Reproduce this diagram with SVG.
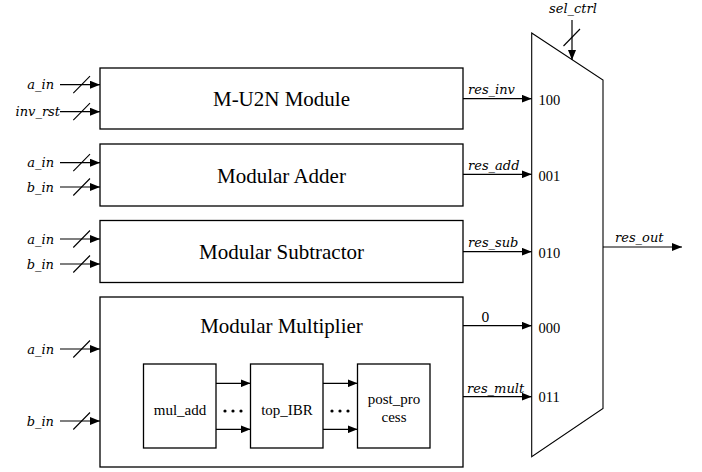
<svg xmlns="http://www.w3.org/2000/svg" width="702" height="472" viewBox="0 0 702 472">
  <defs>
    <marker id="arrow" markerWidth="10" markerHeight="8" refX="10" refY="4" orient="auto" markerUnits="userSpaceOnUse">
      <path d="M0,0 L10,4 L0,8 Z" fill="#000"/>
    </marker>
  </defs>
  <style>
    .box { fill: #fff; stroke: #000; stroke-width: 1.3; }
    .mux { fill: #fff; stroke: #000; stroke-width: 1.1; }
    .wire { fill: none; stroke: #000; stroke-width: 1.2; marker-end: url(#arrow); }
    .slash { fill: none; stroke: #000; stroke-width: 1.1; }
    .title { font-family: 'Liberation Serif', serif; font-size: 21px; text-anchor: middle; fill: #000; }
    .sub { font-family: 'Liberation Serif', serif; font-size: 15px; text-anchor: middle; fill: #000; }
    .code { font-family: 'Liberation Serif', serif; font-size: 14.5px; fill: #000; }
    .sig { font-family: 'DejaVu Serif', serif; font-style: italic; font-size: 13px; fill: #000; }
    .sigr { font-family: 'DejaVu Serif', serif; font-style: italic; font-size: 13px; fill: #000; text-anchor: end; }
    .num { font-family: 'DejaVu Serif', serif; font-size: 13px; fill: #000; text-anchor: middle; }
  </style>

  <!-- functional units -->
  <g id="mu2n">
    <rect class="box" x="100" y="68" width="363" height="61"/>
    <text class="title" x="281.5" y="106">M-U2N Module</text>
  </g>
  <g id="adder">
    <rect class="box" x="100" y="144" width="363" height="62"/>
    <text class="title" x="281.5" y="182.5">Modular Adder</text>
  </g>
  <g id="subtractor">
    <rect class="box" x="100" y="220.5" width="363" height="62"/>
    <text class="title" x="281.5" y="258.5">Modular Subtractor</text>
  </g>
  <g id="multiplier">
    <rect class="box" x="100" y="297" width="363" height="170"/>
    <text class="title" x="281.5" y="332.5">Modular Multiplier</text>
  </g>
  <g id="mul_add">
    <rect class="box" x="143.5" y="364" width="72.5" height="84"/>
    <text class="sub" x="180" y="415">mul_add</text>
  </g>
  <g id="top_IBR">
    <rect class="box" x="250.5" y="364" width="72.5" height="84"/>
    <text class="sub" x="287" y="415">top_IBR</text>
  </g>
  <g id="post_process">
    <rect class="box" x="357.5" y="364" width="72.5" height="84"/>
    <text class="sub" x="394" y="404">post_pro</text>
    <text class="sub" x="394" y="422">cess</text>
  </g>

  <!-- output multiplexer -->
  <g id="mux">
    <polygon class="mux" points="531.7,33 603,80 603,408.5 531.7,456.7"/>
    <text class="code" x="538.5" y="105">100</text>
    <text class="code" x="538.5" y="181">001</text>
    <text class="code" x="538.5" y="258">010</text>
    <text class="code" x="538.5" y="333">000</text>
    <text class="code" x="538.5" y="402">011</text>
  </g>

  <!-- connectors -->
  <g id="connectors">
    <!-- bus inputs -->
    <path class="wire" d="M60,84.7 H100"/>
    <path class="wire" d="M60,111.7 H100"/>
    <path class="wire" d="M60,162.7 H100"/>
    <path class="wire" d="M60,187 H100"/>
    <path class="wire" d="M60,239 H100"/>
    <path class="wire" d="M60,264 H100"/>
    <path class="wire" d="M60,349 H100"/>
    <path class="wire" d="M60,421 H100"/>
    <path class="slash" d="M73.3,93.2 L90,76.2 M73.3,120.2 L90,103.2 M73.3,171.2 L90,154.2 M73.3,195.5 L90,178.5 M73.3,247.5 L90,230.5 M73.3,272.5 L90,255.5 M73.3,357.5 L90,340.5 M73.3,429.5 L90,412.5"/>
    <text class="sigr" x="54" y="89">a_in</text>
    <text class="sigr" x="60" y="116">inv_rst</text>
    <text class="sigr" x="54" y="167">a_in</text>
    <text class="sigr" x="54" y="191.5">b_in</text>
    <text class="sigr" x="54" y="243.5">a_in</text>
    <text class="sigr" x="54" y="268.5">b_in</text>
    <text class="sigr" x="54" y="353.5">a_in</text>
    <text class="sigr" x="54" y="425.5">b_in</text>

    <!-- select input -->
    <path class="wire" d="M572,20 V60"/>
    <path class="slash" d="M563.5,46 L580,29"/>
    <text class="sig" x="573" y="13" text-anchor="middle">sel_ctrl</text>

    <!-- unit results into the mux -->
    <path class="wire" d="M463,98.7 H531.7"/>
    <path class="wire" d="M463,174.3 H531.7"/>
    <path class="wire" d="M463,251.7 H531.7"/>
    <path class="wire" d="M463,325.7 H531.7"/>
    <path class="wire" d="M463,396.7 H531.7"/>
    <text class="sig" x="468" y="94">res_inv</text>
    <text class="sig" x="468" y="170">res_add</text>
    <text class="sig" x="468" y="247">res_sub</text>
    <text class="num" x="485.5" y="322">0</text>
    <text class="sig" x="467" y="392.5">res_mult</text>

    <!-- mux output -->
    <path class="wire" d="M603,247 H682"/>
    <text class="sig" x="615" y="241.5">res_out</text>

    <!-- internal multiplier pipeline -->
    <path class="wire" d="M216,383.3 H250.5"/>
    <path class="wire" d="M216,429.3 H250.5"/>
    <path class="wire" d="M323,383.3 H357.5"/>
    <path class="wire" d="M323,429.3 H357.5"/>
    <g fill="#000">
      <circle cx="225" cy="411" r="1.6"/>
      <circle cx="233" cy="411" r="1.6"/>
      <circle cx="241" cy="411" r="1.6"/>
      <circle cx="332" cy="411" r="1.6"/>
      <circle cx="340" cy="411" r="1.6"/>
      <circle cx="348" cy="411" r="1.6"/>
    </g>
  </g>
</svg>
